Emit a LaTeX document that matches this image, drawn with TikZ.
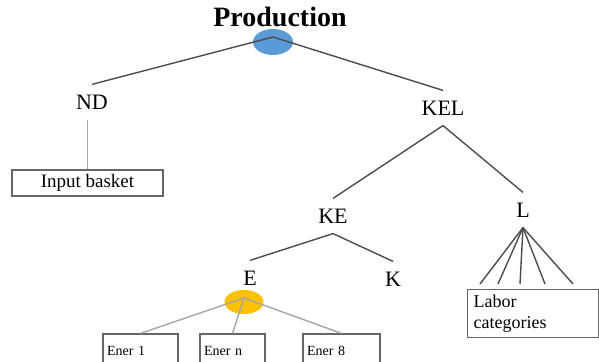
\documentclass[tikz,border=0pt]{standalone}
\usepackage{fontspec}
\setmainfont{Liberation Serif}
\usepackage{tikz}
\usetikzlibrary{shapes.geometric,calc}

\begin{document}
\begin{tikzpicture}[x=0.5pt,y=-0.5pt,
        lbl/.style={font=\fontsize{11}{13}\selectfont,inner sep=5pt},
        box/.style={draw=black!60,line width=0.6pt,fill=white},
        ener/.style={box,font=\fontsize{7}{8}\selectfont,align=left,inner xsep=2pt,
                     text height=4.7pt,text depth=0pt,minimum height=17pt},
        dark/.style={draw=black!70,line width=0.7pt},
        light/.style={draw=black!35,line width=0.7pt}]
        \useasboundingbox (0,0) rectangle (599,362);
        \node[font=\fontsize{14}{16}\selectfont\bfseries] (prod) at (280,17) {Production};
        \node[ellipse,fill={rgb,255:red,91;green,155;blue,213},minimum width=20pt,minimum height=13pt,inner sep=0] (blue) at (273,42) {};
        \node[ellipse,fill={rgb,255:red,255;green,192;blue,0},minimum width=19.5pt,minimum height=12pt,inner sep=0] (orange) at (244,302) {};
        \coordinate (ptop) at ([yshift=2.5pt]blue.center);
        \coordinate (etop) at ([yshift=2pt]orange.center);

        \node[lbl] (ND) at (92,102) {ND};
        \node[lbl] (KEL) at (443,108) {KEL};
        \node[lbl] (KE) at (333,216) {KE};
        \node[lbl] (L) at (523,210) {L};
        \node[lbl] (E) at (250,278) {E};
        \node[lbl] (K) at (393,279) {K};

        \node[box,font=\fontsize{9.5}{11}\selectfont,minimum width=75.5pt,minimum height=13pt,inner sep=0] (inp) at (87.5,183) {Input basket};
        \node[box,anchor=north west,font=\fontsize{9}{10.5}\selectfont,align=left,text width=59.5pt,inner xsep=3pt,inner ysep=2.7pt] (lab) at (467,289) {Labor\\categories};
        \node[ener,text width=33.5pt] (e1) at (140.5,351) {Ener 1};
        \node[ener,text width=28.5pt] (en) at (232.5,351) {Ener n};
        \node[ener,text width=34.5pt] (e8) at (341.5,351) {Ener 8};

        \draw[dark] (ptop) -- (ND.north);
        \draw[dark] (ptop) -- (KEL.north);
        \draw[dark] (KEL.south) -- (KE.north);
        \draw[dark] (KEL.south) -- (L.north);
        \draw[dark] (KE.south) -- (E.north);
        \draw[dark] (KE.south) -- (K.north);
        \draw[light] (ND.south -| inp.north) -- (inp.north);
        \foreach \dx in {13,31,53,78,106}
            \draw[dark] (L.south) -- ($(lab.north west)+(\dx,-5)$);
        \foreach \b in {e1,en,e8}
            \draw[light] (etop) -- (\b.north);
\end{tikzpicture}
\end{document}
